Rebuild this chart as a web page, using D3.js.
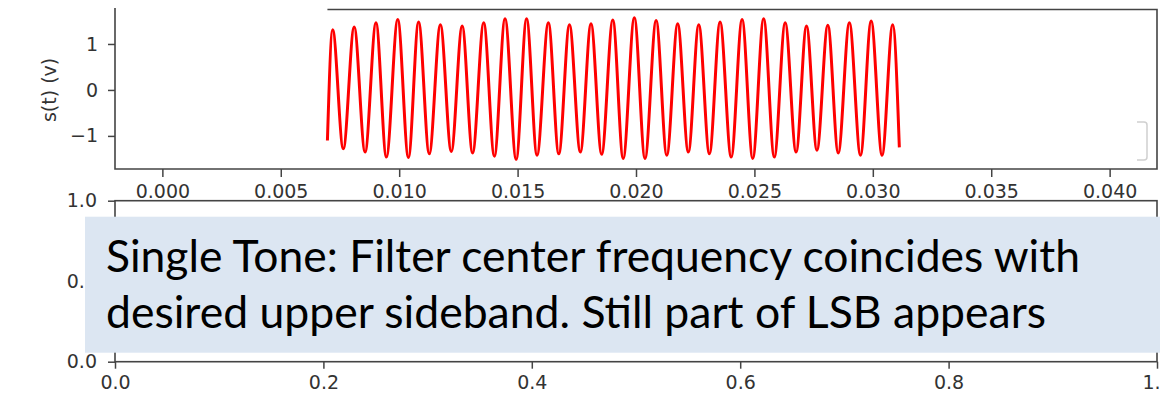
<!DOCTYPE html>
<meta charset="utf-8">
<style>
  body { margin: 0; background: #fff; }
  .spine { stroke: #444; stroke-width: 1.6; fill: none; }
  .note { font-family: Lato, "Open Sans", sans-serif; font-size: 44px; fill: #000; }
</style>
<script src="https://d3js.org/d3.v7.min.js"></script>
<body>
<svg id="chart" width="1160" height="394"></svg>
<script>
// s(t): turning points of the red trace (time in s, volts)
var sigTime = [
  0.00697, 0.00719, 0.00764, 0.00810, 0.00856, 0.00902, 0.00946, 0.00994, 0.01039,
  0.01082, 0.01127, 0.01174, 0.01220, 0.01266, 0.01310, 0.01357, 0.01402, 0.01447,
  0.01494, 0.01538, 0.01582, 0.01630, 0.01674, 0.01719, 0.01765, 0.01810, 0.01855,
  0.01902, 0.01946, 0.01993, 0.02038, 0.02085, 0.02130, 0.02176, 0.02221, 0.02265,
  0.02310, 0.02355, 0.02402, 0.02448, 0.02493, 0.02539, 0.02584, 0.02630, 0.02676,
  0.02720, 0.02764, 0.02810, 0.02854, 0.02901, 0.02948, 0.02993, 0.03039, 0.03084,
  0.03112
];
var sigValue = [
  -1.10, 1.31, -1.28, 1.37, -1.35, 1.46, -1.46, 1.53, -1.47,
  1.48, -1.39, 1.42, -1.34, 1.39, -1.37, 1.46, -1.44, 1.55,
  -1.51, 1.55, -1.42, 1.46, -1.39, 1.42, -1.35, 1.44, -1.40,
  1.52, -1.49, 1.57, -1.49, 1.51, -1.42, 1.44, -1.35, 1.42,
  -1.39, 1.48, -1.46, 1.53, -1.49, 1.55, -1.46, 1.46, -1.35,
  1.39, -1.31, 1.41, -1.37, 1.46, -1.42, 1.50, -1.42, 1.42,
  -1.25
];
var topXTicks = [0, 0.005, 0.01, 0.015, 0.02, 0.025, 0.03, 0.035, 0.04];
var topYTicks = [-1, 0, 1];
var botXTicks = [0, 0.2, 0.4, 0.6, 0.8, 1.0];
var botYTicks = [0, 0.5, 1.0];
var yLabel = "s(t) (v)";
var noteLines = [
  "Single Tone: Filter center frequency coincides with",
  "desired upper sideband. Still part of LSB appears"
];

var svg = d3.select("#chart");

function styleAxis(g) {
  g.select(".domain").remove();
  g.selectAll(".tick line").attr("stroke", "#444").attr("stroke-width", 1.5);
  g.selectAll(".tick text")
    .attr("fill", "#333")
    .style("font-family", "DejaVu Sans, sans-serif")
    .style("font-size", "19px");
}

// ---- upper axes ----
var up = {left: 115, right: 1157, top: 9.5, bottom: 169};
var x = d3.scaleLinear().domain([-0.002, 0.042]).range([up.left, up.right]);
var y = d3.scaleLinear().domain([-1.72, 1.75]).range([up.bottom, up.top]);

svg.append("g")
  .attr("transform", "translate(0," + up.bottom + ")")
  .call(d3.axisBottom(x).tickValues(topXTicks).tickFormat(d3.format(".3f")).tickSize(8).tickPadding(8))
  .call(styleAxis);

svg.append("g")
  .attr("transform", "translate(" + up.left + ",0)")
  .call(d3.axisLeft(y).tickValues(topYTicks).tickFormat(d => d < 0 ? "\u2212" + Math.abs(d) : d).tickSize(7).tickPadding(10))
  .call(styleAxis);

svg.append("text")
  .attr("transform", "translate(49," + y(0) + ") rotate(-90)")
  .attr("text-anchor", "middle")
  .attr("dy", "0.35em")
  .style("font-family", "DejaVu Sans, sans-serif")
  .style("font-size", "19px")
  .style("fill", "#333")
  .text(yLabel);

var line = d3.line()
  .x((d, i) => x(sigTime[i]))
  .y(d => y(d))
  .curve(d3.curveMonotoneX);

svg.append("path")
  .datum(sigValue)
  .attr("d", line)
  .attr("fill", "none")
  .attr("stroke", "#ff0000")
  .attr("stroke-width", 3);

// spines (top one is hidden on the left in the screenshot)
svg.append("path").attr("class", "spine")
  .attr("d", "M" + up.left + "," + (up.top - 1.5) + "V" + up.bottom + "H" + up.right + "V" + up.top + "H" + x(sigTime[0]));

// partial legend frame peeking out at the right edge
var lx = up.right - 20, ly = y(-0.7);
svg.append("path")
  .attr("d", "M" + lx + "," + ly + "h7q3,0 3,3v32q0,3 -3,3h-7")
  .attr("fill", "none")
  .attr("stroke", "#d0d0d0")
  .attr("stroke-width", 1.5);

// ---- lower axes ----
var lo = {left: 115, right: 1157, top: 200.7, bottom: 361.7};
var x2 = d3.scaleLinear().domain([0, 1]).range([lo.left, lo.right]);
var y2 = d3.scaleLinear().domain([0, 1]).range([lo.bottom, lo.top]);

svg.append("g")
  .attr("transform", "translate(0," + lo.bottom + ")")
  .call(d3.axisBottom(x2).tickValues(botXTicks).tickFormat(d3.format(".1f")).tickSize(7).tickPadding(7))
  .call(styleAxis);

svg.append("g")
  .attr("transform", "translate(" + lo.left + ",0)")
  .call(d3.axisLeft(y2).tickValues(botYTicks).tickFormat(d3.format(".1f")).tickSize(7).tickPadding(11))
  .call(styleAxis);

svg.append("rect").attr("class", "spine")
  .attr("x", lo.left).attr("y", lo.top)
  .attr("width", lo.right - lo.left).attr("height", lo.bottom - lo.top);

// ---- slide text box ----
svg.append("rect")
  .attr("x", 85).attr("y", 216.7)
  .attr("width", 1090).attr("height", 136)
  .attr("fill", "#dce6f2");

var noteWidths = [974, 940];
svg.selectAll("text.note")
  .data(noteLines)
  .join("text")
  .attr("class", "note")
  .attr("x", 106)
  .attr("y", (d, i) => 272 + i * 56)
  .attr("textLength", (d, i) => noteWidths[i])
  .attr("lengthAdjust", "spacingAndGlyphs")
  .text(d => d);
</script>
</body>
